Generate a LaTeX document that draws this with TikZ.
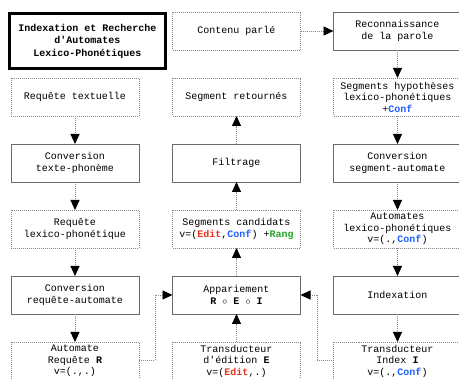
\documentclass[tikz,border=0pt]{standalone}
\usepackage{fontspec}
\setmonofont{Liberation Mono}
\usetikzlibrary{arrows.meta}
\definecolor{cred}{HTML}{E8321E}
\definecolor{cblue}{HTML}{1F5FFF}
\definecolor{cgreen}{HTML}{22A822}
\definecolor{bord}{HTML}{6A6A6A}
\tikzset{
  box/.style={draw=bord, line width=0.9pt, minimum width=128pt, minimum height=38pt,
    inner sep=0pt, outer sep=0pt, align=center, font=\ttfamily\fontsize{10}{11.5}\selectfont, fill=white},
  dbox/.style={box, dash pattern=on 1pt off 1pt, draw=bord!80},
  arr/.style={draw=bord!80, line width=0.9pt, dash pattern=on 1pt off 1pt,
    -{Triangle[length=10pt,width=9pt,color=black]}},
}
\newcommand{\Ed}{\textcolor{cred}{\textbf{Edit}}}
\newcommand{\Cf}{\textcolor{cblue}{\textbf{Conf}}}
\newcommand{\Rg}{\textcolor{cgreen}{\textbf{Rang}}}
\begin{document}
\begin{tikzpicture}[x=1pt,y=-1pt]
\useasboundingbox (0,0) rectangle (459,379);
\clip (0,0) rectangle (459,379);
% title
\node[draw=black, line width=3pt, minimum width=156pt, minimum height=55pt, inner sep=0pt,
  align=center, font=\ttfamily\fontsize{10}{12.5}\selectfont\bfseries] (title) at (87.5,41)
  {Indexation et Recherche\\d'Automates\\Lexico-Phonétiques};
% column 1
\node[dbox] (reqt) at (75,97) {Requête textuelle};
\node[box]  (ctp)  at (75,163) {Conversion\\texte-phonème};
\node[dbox] (rlp)  at (75,229) {Requête\\lexico-phonétique};
\node[box]  (cra)  at (75,295) {Conversion\\requête-automate};
\node[dbox] (ar)   at (75,361) {Automate\\Requête \textbf{R}\\v=(.,.)};
% column 2
\node[dbox] (cp)   at (236.5,31) {Contenu parlé};
\node[dbox] (sr)   at (236.5,97) {Segment retournés};
\node[box]  (fil)  at (236.5,163) {Filtrage};
\node[dbox] (sc)   at (236.5,229) {Segments candidats\\v=(\Ed,\Cf) +\Rg};
\node[box]  (app)  at (236.5,295) {Appariement\\\textbf{R} $\circ$ \textbf{E} $\circ$ \textbf{I}};
\node[dbox] (te)   at (236.5,361) {Transducteur\\d'édition \textbf{E}\\v=(\Ed,.)};
% column 3
\node[box]  (rec)  at (397.5,31) {Reconnaissance\\de la parole};
\node[dbox] (sh)   at (397.5,97) {Segments hypothèses\\lexico-phonétiques\\+\Cf};
\node[box]  (csa)  at (397.5,163) {Conversion\\segment-automate};
\node[dbox] (alp)  at (397.5,229) {Automates\\lexico-phonétiques\\v=(.,\Cf)};
\node[box]  (idx)  at (397.5,295) {Indexation};
\node[dbox] (ti)   at (397.5,361) {Transducteur\\Index \textbf{I}\\v=(.,\Cf)};
% arrows column 1
\draw[arr] (reqt) -- (ctp);
\draw[arr] (ctp) -- (rlp);
\draw[arr] (rlp) -- (cra);
\draw[arr] (cra) -- (ar);
% arrows column 3
\draw[arr] (cp) -- (rec);
\draw[arr] (rec) -- (sh);
\draw[arr] (sh) -- (csa);
\draw[arr] (csa) -- (alp);
\draw[arr] (alp) -- (idx);
\draw[arr] (idx) -- (ti);
% arrows column 2
\draw[arr] (te) -- (app);
\draw[arr] (app) -- (sc);
\draw[arr] (sc) -- (fil);
\draw[arr] (fil) -- (sr);
% elbows
\coordinate (e1) at (155,360);
\coordinate (e2) at (317,360);
\draw[arr] (ar.east |- e1) -- (e1) |- (app.west);
\draw[arr] (ti.west |- e2) -- (e2) |- (app.east);
\end{tikzpicture}
\end{document}
